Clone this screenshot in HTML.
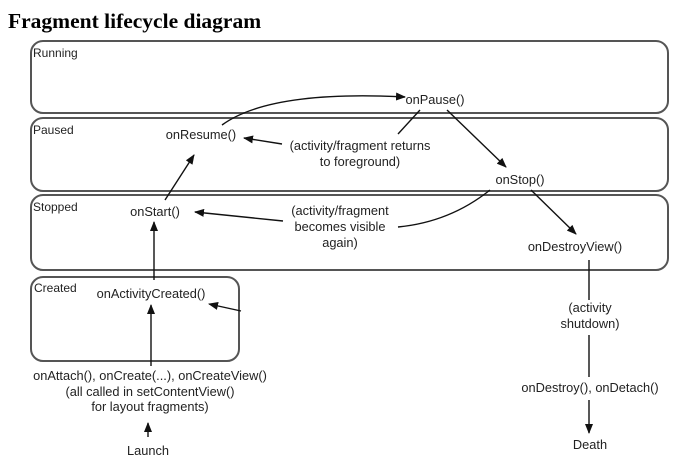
<!DOCTYPE html>
<html><head><style>
body{margin:0;background:#fff;width:679px;height:466px;overflow:hidden}
svg text{font-family:"Liberation Sans",sans-serif;font-size:12.8px;fill:#222}
</style></head><body>
<svg width="679" height="466" viewBox="0 0 679 466" xmlns="http://www.w3.org/2000/svg">
<defs><marker id="a" markerWidth="10" markerHeight="8" refX="9" refY="4" orient="auto" markerUnits="userSpaceOnUse"><path d="M0,0 L10,4 L0,8 z" fill="#111"/></marker></defs>
<text x="8" y="28" style="font-family:'Liberation Serif',serif;font-weight:bold;font-size:21.5px;fill:#000">Fragment lifecycle diagram</text>
<g fill="none" stroke="#555" stroke-width="2">
<rect x="31" y="41" width="637" height="72" rx="12"/>
<rect x="31" y="118" width="637" height="73" rx="12"/>
<rect x="31" y="195" width="637" height="75" rx="12"/>
<rect x="31" y="277" width="208" height="84" rx="12"/>
</g>
<g>
<text x="33" y="57" style="font-size:12px">Running</text>
<text x="33" y="134" style="font-size:12px">Paused</text>
<text x="33" y="211" style="font-size:12px">Stopped</text>
<text x="34" y="292" style="font-size:12px">Created</text>
</g>
<g text-anchor="middle">
<text x="435" y="104">onPause()</text>
<text x="201" y="139">onResume()</text>
<text x="360" y="150">(activity/fragment returns</text>
<text x="360" y="166">to foreground)</text>
<text x="520" y="184">onStop()</text>
<text x="155" y="216">onStart()</text>
<text x="340" y="215">(activity/fragment</text>
<text x="340" y="231">becomes visible</text>
<text x="340" y="247">again)</text>
<text x="575" y="251">onDestroyView()</text>
<text x="151" y="298">onActivityCreated()</text>
<text x="150" y="380">onAttach(), onCreate(...), onCreateView()</text>
<text x="150" y="396">(all called in setContentView()</text>
<text x="150" y="411">for layout fragments)</text>
<text x="148" y="455">Launch</text>
<text x="590" y="312">(activity</text>
<text x="590" y="328">shutdown)</text>
<text x="590" y="392">onDestroy(), onDetach()</text>
<text x="590" y="449">Death</text>
</g>
<g fill="none" stroke="#111" stroke-width="1.4">
<path d="M222,125 Q270,90 405,97" marker-end="url(#a)"/>
<path d="M420,110 L398,134"/>
<path d="M282,144 L244,138" marker-end="url(#a)"/>
<path d="M447,110 L506,167" marker-end="url(#a)"/>
<path d="M490,190 Q450,222 398,227"/>
<path d="M283,221 L195,212" marker-end="url(#a)"/>
<path d="M531,190 L576,234" marker-end="url(#a)"/>
<path d="M165,200 L194,155" marker-end="url(#a)"/>
<path d="M154,280 L154,222" marker-end="url(#a)"/>
<path d="M151,366 L151,305" marker-end="url(#a)"/>
<path d="M241,311 L209,304" marker-end="url(#a)"/>
<path d="M148,437 L148,423" marker-end="url(#a)"/>
<path d="M589,260 L589,300"/>
<path d="M589,335 L589,377"/>
<path d="M589,400 L589,433" marker-end="url(#a)"/>
</g>
</svg>
</body></html>
